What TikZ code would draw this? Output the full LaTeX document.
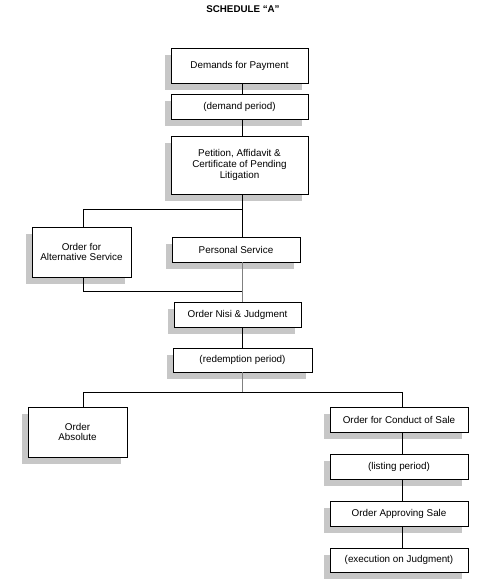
\documentclass[tikz,border=0pt]{standalone}
\usepackage{fontspec}
\setmainfont{Liberation Sans}
\usetikzlibrary{shadows}
\begin{document}
\begin{tikzpicture}[x=1bp,y=-1bp,
  box/.style={draw=black, line width=0.9bp, fill=white, align=center, inner sep=0pt,
    font=\fontsize{9.9}{10.6}\selectfont,
    drop shadow={shadow xshift=-6bp, shadow yshift=-7bp, fill=black!22, opacity=1}},
  conn/.style={line width=0.9bp, draw=black},
  gconn/.style={line width=1.2bp, draw=black!50}]
\useasboundingbox (0,0) rectangle (491,584);
\fill[white] (0,0) rectangle (491,584);
\node[font=\bfseries\fontsize{9.8}{11}\selectfont] (title) at (243,9.5) {SCHEDULE “A”};
\node[box, minimum width=137bp, minimum height=35bp] (dem) at (239.5,65.5) {Demands for Payment};
\node[box, minimum width=137bp, minimum height=25bp] (dper) at (239.5,106.5) {(demand period)};
\node[box, minimum width=137bp, minimum height=58bp] (pet) at (239.5,165) {Petition, Affidavit \&\\Certificate of Pending\\Litigation};
\node[box, minimum width=99bp, minimum height=50bp] (alt) at (81.5,252) {Order for\\Alternative Service};
\node[box, minimum width=128bp, minimum height=25bp] (pers) at (236,249.5) {Personal Service};
\node[box, minimum width=127bp, minimum height=25bp] (nisi) at (237.5,314.5) {Order Nisi \& Judgment};
\node[box, minimum width=139bp, minimum height=24bp] (red) at (242.5,360) {(redemption period)};
\node[box, minimum width=99bp, minimum height=50bp] (abs) at (77.5,432) {Order\\Absolute};
\node[box, minimum width=138bp, minimum height=25bp] (cond) at (399,419.5) {Order for Conduct of Sale};
\node[box, minimum width=138bp, minimum height=25bp] (list) at (399,466.5) {(listing period)};
\node[box, minimum width=138bp, minimum height=25bp] (appr) at (399,513.5) {Order Approving Sale};
\node[box, minimum width=138bp, minimum height=24bp] (exec) at (399,560) {(execution on Judgment)};
\coordinate (spine) at (242.5,0);
\coordinate (left) at (83,0);
\coordinate (right) at (402,0);
\coordinate (b1) at (242.5,209);
\coordinate (b2) at (242.5,291);
\coordinate (b3) at (242.5,392);
\draw[conn] (dem.south -| spine) -- (dper.north -| spine);
\draw[conn] (dper.south -| spine) -- (pet.north -| spine);
\draw[conn] (pet.south -| spine) -- (pers.north -| spine);
\draw[conn] (b1) -- (b1 -| left) -- (alt.north -| left);
\draw[conn] (alt.south -| left) -- (b2 -| left) -- (b2);
\draw[gconn] (pers.south -| spine) -- (nisi.north -| spine);
\draw[conn] (nisi.south -| spine) -- (red.north -| spine);
\draw[gconn] (red.south -| spine) -- (b3);
\draw[conn] (abs.north -| left) -- (b3 -| left) -- (b3 -| right) -- (cond.north -| right);
\draw[conn] (cond.south -| right) -- (list.north -| right);
\draw[conn] (list.south -| right) -- (appr.north -| right);
\draw[conn] (appr.south -| right) -- (exec.north -| right);
\end{tikzpicture}
\end{document}
